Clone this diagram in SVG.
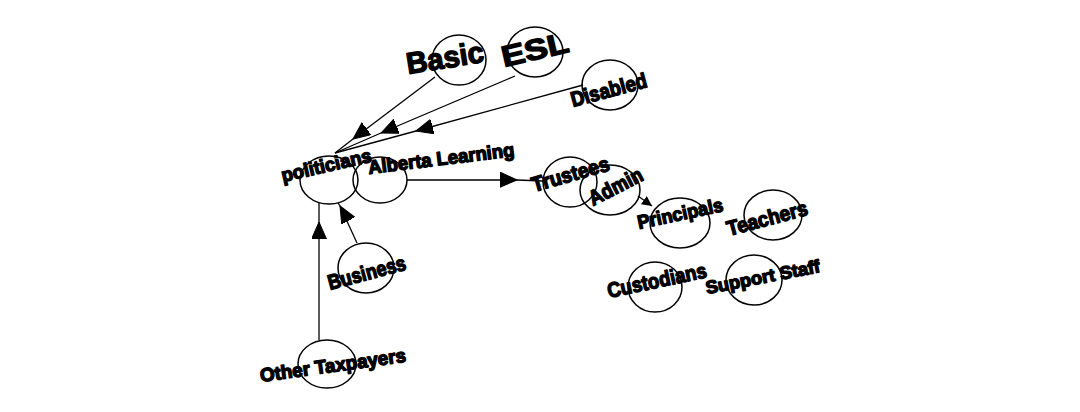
<svg xmlns="http://www.w3.org/2000/svg" width="1080" height="412" viewBox="0 0 1080 412">
<style>
.n{fill:none;stroke:#000;stroke-width:1.5}
.t{font-family:"Liberation Sans",Arial,sans-serif;font-weight:bold;fill:#000;stroke:#000;stroke-width:1.4;stroke-linejoin:round}
.c{fill:none;stroke:#000;stroke-width:1.3}
</style>
<defs>
<marker id="ah" markerUnits="userSpaceOnUse" markerWidth="20" markerHeight="18" refX="17" refY="7.5" orient="auto" viewBox="0 0 20 18">
<path d="M17,7.5 L0,0 L0,15 Z" fill="#000" stroke="#000" stroke-width="1" stroke-linejoin="round"/>
</marker>
<marker id="ahs" markerUnits="userSpaceOnUse" markerWidth="14" markerHeight="12" refX="10" refY="5" orient="auto" viewBox="0 0 14 12">
<path d="M10,5 L0,0 L0,10 Z" fill="#000"/>
</marker>
</defs>
<rect width="1080" height="412" fill="#fff"/>
<g id="connectors">
<path class="c" d="M435,77 L353,139 L335,153" marker-mid="url(#ah)"/>
<path class="c" d="M515,76 L381,133 L335,153" marker-mid="url(#ah)"/>
<path class="c" d="M583,85 L416,131 L335,153" marker-mid="url(#ah)"/>
<path class="c" d="M407,180 L517,180 L543,181" marker-mid="url(#ah)"/>
<path class="c" d="M638,196 L652,206" marker-end="url(#ahs)"/>
<path class="c" d="M357,243 L340,206 L338,203" marker-mid="url(#ah)"/>
<path class="c" d="M319,340 L319,222 L319,203" marker-mid="url(#ah)"/>
</g>
<g id="basic"><ellipse class="n" cx="459" cy="60" rx="27" ry="25"/><text class="t" x="408" y="74" font-size="30" textLength="78" lengthAdjust="spacingAndGlyphs" transform="rotate(-9 408 74)">Basic</text></g>
<g id="esl"><ellipse class="n" cx="535" cy="52" rx="28" ry="25"/><text class="t" x="504" y="67" font-size="29" textLength="68" lengthAdjust="spacingAndGlyphs" transform="rotate(-13 504 67)">ESL</text></g>
<g id="disabled"><ellipse class="n" cx="610" cy="85" rx="28" ry="25"/><text class="t" x="573" y="107" font-size="21" textLength="78" lengthAdjust="spacingAndGlyphs" transform="rotate(-15 573 107)">Disabled</text></g>
<g id="politicians"><ellipse class="n" cx="329" cy="180" rx="29" ry="24"/><text class="t" x="283" y="182" font-size="19" textLength="92" lengthAdjust="spacingAndGlyphs" transform="rotate(-13 283 182)">politicians</text></g>
<g id="alberta-learning"><ellipse class="n" cx="380" cy="180" rx="27" ry="23"/><text class="t" x="369" y="174" font-size="19" textLength="147" lengthAdjust="spacingAndGlyphs" transform="rotate(-7 369 174)">Alberta Learning</text></g>
<g id="trustees"><ellipse class="n" cx="570" cy="182" rx="27" ry="25"/><text class="t" x="534" y="192" font-size="21" textLength="80" lengthAdjust="spacingAndGlyphs" transform="rotate(-16 534 192)">Trustees</text></g>
<g id="admin"><ellipse class="n" cx="610" cy="190" rx="30" ry="25"/><text class="t" x="593" y="206" font-size="21" textLength="58" lengthAdjust="spacingAndGlyphs" transform="rotate(-27 593 206)">Admin</text></g>
<g id="principals"><ellipse class="n" cx="680" cy="223" rx="30" ry="25"/><text class="t" x="639" y="229" font-size="19" textLength="87" lengthAdjust="spacingAndGlyphs" transform="rotate(-12 639 229)">Principals</text></g>
<g id="teachers"><ellipse class="n" cx="773" cy="215" rx="29" ry="25"/><text class="t" x="729" y="236" font-size="21" textLength="83" lengthAdjust="spacingAndGlyphs" transform="rotate(-15 729 236)">Teachers</text></g>
<g id="custodians"><ellipse class="n" cx="655" cy="287" rx="27" ry="25"/><text class="t" x="609" y="298" font-size="21" textLength="101" lengthAdjust="spacingAndGlyphs" transform="rotate(-12 609 298)">Custodians</text></g>
<g id="support-staff"><ellipse class="n" cx="754" cy="280" rx="28" ry="25"/><text class="t" x="707" y="294" font-size="18" textLength="116" lengthAdjust="spacingAndGlyphs" transform="rotate(-11 707 294)">Support Staff</text></g>
<g id="business"><ellipse class="n" cx="366" cy="268" rx="28" ry="25"/><text class="t" x="330" y="290" font-size="21" textLength="80" lengthAdjust="spacingAndGlyphs" transform="rotate(-15 330 290)">Business</text></g>
<g id="other-taxpayers"><ellipse class="n" cx="327" cy="364" rx="29" ry="24"/><text class="t" x="261" y="382" font-size="19" textLength="147" lengthAdjust="spacingAndGlyphs" transform="rotate(-8 261 382)">Other Taxpayers</text></g>
</svg>
